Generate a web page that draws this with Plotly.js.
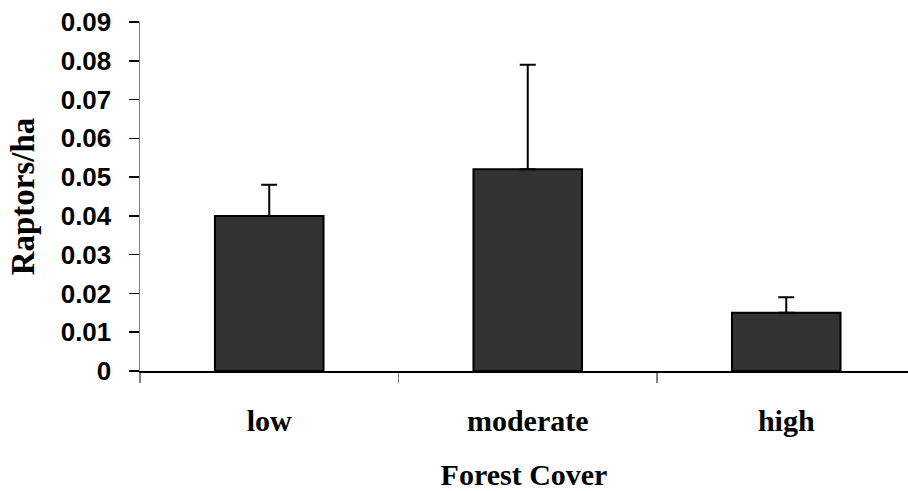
<!DOCTYPE html>
<html>
<head>
<meta charset="utf-8">
<script src="https://cdn.plot.ly/plotly-3.0.1.min.js"></script>
<style>html,body{margin:0;padding:0;background:#fff;}#chart{width:908px;height:491px;}</style>
</head>
<body>
<div id="chart"></div>
<script>
const categories = ["low", "moderate", "high"];
const raptorsPerHa = [0.040, 0.052, 0.015];
const errorPlus = [0.008, 0.027, 0.004];
const yTickVals = [0, 0.01, 0.02, 0.03, 0.04, 0.05, 0.06, 0.07, 0.08, 0.09];
const yTickText = ["0", "0.01", "0.02", "0.03", "0.04", "0.05", "0.06", "0.07", "0.08", "0.09"];

const trace = {
  type: "bar",
  x: categories,
  y: raptorsPerHa,
  width: 0.42,
  marker: {color: "#333333", line: {color: "#000000", width: 2}},
  error_y: {type: "data", symmetric: false, array: errorPlus, arrayminus: [0,0,0], color: "#000000", thickness: 2, width: 8},
  hoverinfo: "none"
};

const layout = {
  width: 908, height: 491,
  margin: {l: 140, r: 0, t: 21.5, b: 119.5},
  paper_bgcolor: "#ffffff", plot_bgcolor: "#ffffff",
  showlegend: false,
  xaxis: {
    type: "category",
    range: [-0.5, 2.471],
    showline: true, linecolor: "#000000", linewidth: 1.5,
    ticks: "outside", tickson: "boundaries", ticklen: 10, tickcolor: "#808080", tickwidth: 1.5,
    showgrid: false, zeroline: false,
    tickfont: {family: "Liberation Serif, Times New Roman, serif", size: 30, color: "#000000", weight: "bold"},
    ticklabelstandoff: 22,
    title: {text: "<b>Forest Cover</b>", font: {family: "Liberation Serif, Times New Roman, serif", size: 30, color: "#000000"}, standoff: 28}
  },
  yaxis: {
    range: [0, 0.09],
    tickvals: yTickVals, ticktext: yTickText,
    showline: true, linecolor: "#808080", linewidth: 1.5,
    ticks: "outside", ticklen: 10, tickcolor: "#000000", tickwidth: 1.5,
    showgrid: false, zeroline: false,
    tickfont: {family: "Liberation Sans, Arial, sans-serif", size: 26, color: "#000000", weight: "bold"},
    ticklabelstandoff: 12,
    title: {text: "<b>Raptors/ha</b>", font: {family: "Liberation Serif, Times New Roman, serif", size: 33, color: "#000000"}, standoff: 16}
  }
};

Plotly.newPlot("chart", [trace], layout, {displayModeBar: false, staticPlot: true});
</script>
</body>
</html>
